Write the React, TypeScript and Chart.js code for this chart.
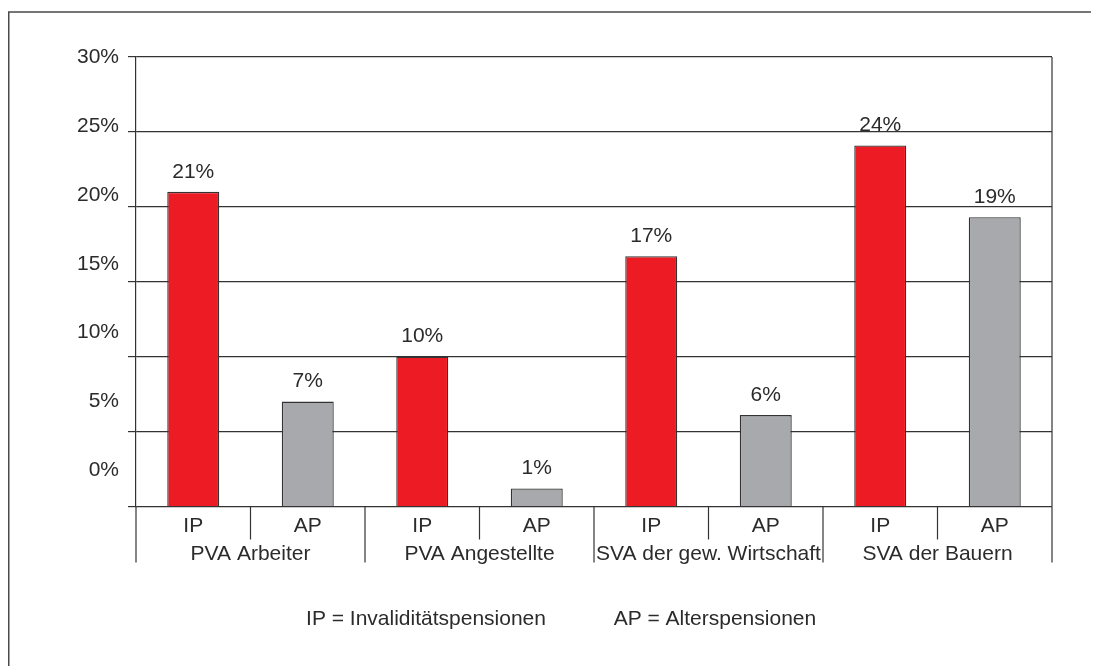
import React, { useEffect, useRef } from "react";
import { Chart, registerables } from "chart.js";

Chart.register(...registerables);

// ---- data ----
const categories = ["IP", "AP", "IP", "AP", "IP", "AP", "IP", "AP"];
const groups = ["PVA Arbeiter", "PVA Angestellte", "SVA der gew. Wirtschaft", "SVA der Bauern"];
const values = [21, 7, 10, 1.2, 16.7, 6.1, 24.1, 19.3];
const valueLabels = ["21%", "7%", "10%", "1%", "17%", "6%", "24%", "19%"];
const yTickValues = [0, 5, 10, 15, 20, 25, 30];
const yTickLabels = ["0%", "5%", "10%", "15%", "20%", "25%", "30%"];
const legendItems = ["IP = Invaliditätspensionen", "AP = Alterspensionen"];

const RED = "#ED1C24";
const GRAY = "#A7A9AC";
const INK = "#2b2b2b";
const LINE = "#333333";
const FONT = "'Liberation Sans', Arial, Helvetica, sans-serif";

const overlayPlugin = {
  id: "overlay",
  afterDatasetsDraw(chart: any) {
    const ctx = chart.ctx;
    const meta = chart.getDatasetMeta(0);
    ctx.save();
    ctx.fillStyle = INK;
    ctx.font = `21px ${FONT}`;
    ctx.textAlign = "center";
    ctx.textBaseline = "middle";
    meta.data.forEach((bar: any, i: number) => {
      ctx.fillText(valueLabels[i], bar.x, bar.y - 20);
    });
    ctx.restore();
  },
  afterDraw(chart: any) {
    const ctx = chart.ctx;
    const area = chart.chartArea;
    const x = chart.scales.x;
    const yl = chart.scales.yl;
    ctx.save();

    // outer frame (top + left)
    ctx.strokeStyle = "#4a4a4a";
    ctx.lineWidth = 1.5;
    ctx.beginPath();
    ctx.moveTo(0.75, chart.height);
    ctx.lineTo(0.75, 4);
    ctx.lineTo(chart.width, 4);
    ctx.stroke();

    // right border of plot
    ctx.strokeStyle = LINE;
    ctx.lineWidth = 1.2;
    ctx.beginPath();
    ctx.moveTo(area.right, area.top);
    ctx.lineTo(area.right, area.bottom);
    ctx.stroke();

    // category separators below axis
    for (let k = 0; k <= categories.length; k++) {
      const px = x.getPixelForValue(k - 0.5);
      const len = k % 2 === 0 ? 56 : 33;
      ctx.beginPath();
      ctx.moveTo(px, area.bottom);
      ctx.lineTo(px, area.bottom + len);
      ctx.stroke();
    }

    // category labels
    ctx.fillStyle = INK;
    ctx.font = `21px ${FONT}`;
    ctx.textAlign = "center";
    ctx.textBaseline = "middle";
    categories.forEach((c, i) => {
      ctx.fillText(c, x.getPixelForValue(i), area.bottom + 20);
    });
    groups.forEach((g, gi) => {
      const cx = (x.getPixelForValue(gi * 2 - 0.5) + x.getPixelForValue(gi * 2 + 1.5)) / 2;
      ctx.fillText(g, cx, area.bottom + 48);
    });

    // y tick labels
    ctx.textAlign = "right";
    yTickValues.forEach((v, i) => {
      ctx.fillText(yTickLabels[i], area.left - 17, yl.getPixelForValue(v));
    });

    // legend text
    ctx.font = `21px ${FONT}`;
    ctx.textAlign = "center";
    const w = area.right - area.left;
    ctx.fillText(legendItems[0], area.left + w * 0.3166, area.bottom + 112.5);
    ctx.fillText(legendItems[1], area.left + w * 0.632, area.bottom + 112.5);

    ctx.restore();
  },
};

export default function App() {
  const ref = useRef<HTMLCanvasElement | null>(null);

  useEffect(() => {
    document.documentElement.style.overflow = "hidden";
    document.body.style.overflow = "hidden";
    if (!ref.current) return;
    const chart = new Chart(ref.current, {
      type: "bar",
      data: {
        labels: categories,
        datasets: [
          {
            data: values,
            backgroundColor: categories.map((c) => (c === "IP" ? RED : GRAY)),
            borderColor: "#333333",
            borderWidth: 1.3,
            categoryPercentage: 1,
            barPercentage: 0.454,
          },
        ],
      },
      options: {
        responsive: false,
        animation: false,
        layout: { padding: { left: 120, top: 49, right: 47, bottom: 159.5 } },
        plugins: {
          legend: { display: false },
          tooltip: { enabled: false },
          title: { display: false },
        },
        scales: {
          x: { display: false },
          y: {
            min: 0,
            max: 30,
            afterBuildTicks: (s: any) => {
              s.ticks = yTickValues.map((v) => ({ value: v }));
            },
            grid: {
              color: LINE,
              lineWidth: 1.2,
              tickLength: 8,
              drawTicks: true,
              tickColor: LINE,
            },
            border: { display: true, color: LINE, width: 1.2 },
            ticks: { display: false },
          },
          yl: {
            type: "linear",
            position: "left",
            display: false,
            min: -2.65,
            max: 30.04,
          },
        },
      },
      plugins: [overlayPlugin],
    });
    return () => chart.destroy();
  }, []);

  return (
    <canvas
      ref={ref}
      width={1091}
      height={658}
      style={{ display: "block", width: 1091, height: 658 }}
    />
  );
}
